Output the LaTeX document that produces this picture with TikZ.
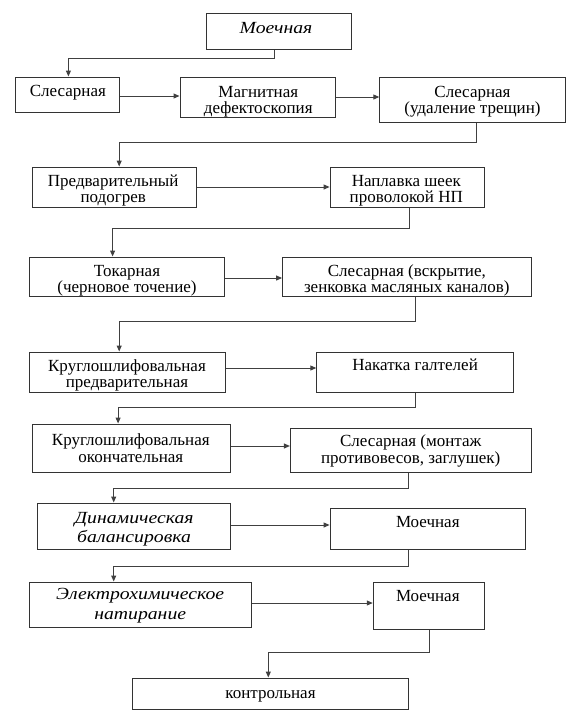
\documentclass[tikz,border=0pt]{standalone}
\usepackage{fontspec}
\setmainfont{Liberation Serif}[FakeStretch=1.001]
\newfontfamily\itf{Liberation Serif}[FakeStretch=1.16]
\usetikzlibrary{arrows.meta}
\begin{document}
\begin{tikzpicture}[x=1pt,y=-1pt,
  box/.style={draw=black!80,line width=1pt,inner sep=0pt,rectangle},
  lbl/.style={inner sep=0pt,align=center,font=\fontsize{17}{16.5}\selectfont},
  ilbl/.style={lbl,font=\fontsize{17}{18.5}\selectfont\itf\itshape},
  arr/.style={draw=black!75,line width=1pt,-{Triangle[length=6pt,width=5pt]}}]
\useasboundingbox (0,0) rectangle (577,724);
% boxes
\node[box,minimum width=144.7pt,minimum height=36pt] (b1) at (278.8,31) {};
\node[box,minimum width=103.7pt,minimum height=35pt] (b2) at (67.4,94.5) {};
\node[box,minimum width=155.6pt,minimum height=40pt] (b3) at (257.8,97) {};
\node[box,minimum width=185.4pt,minimum height=45pt] (b4) at (472.5,99.5) {};
\node[box,minimum width=164.5pt,minimum height=40pt] (b5) at (114.3,187) {};
\node[box,minimum width=154.6pt,minimum height=40pt] (b6) at (407.4,187) {};
\node[box,minimum width=194.3pt,minimum height=39pt] (b7) at (127,276.5) {};
\node[box,minimum width=248.4pt,minimum height=39pt] (b8) at (406.8,276.5) {};
\node[box,minimum width=195.4pt,minimum height=40pt] (b9) at (127.5,372) {};
\node[box,minimum width=196.6pt,minimum height=40pt] (b10) at (415.1,372) {};
\node[box,minimum width=198.7pt,minimum height=48pt] (b11) at (131.4,448) {};
\node[box,minimum width=240.6pt,minimum height=44pt] (b12) at (410.7,450) {};
\node[box,minimum width=193.2pt,minimum height=46pt] (b13) at (134.1,526) {};
\node[box,minimum width=195.4pt,minimum height=41pt] (b14) at (427.8,528.5) {};
\node[box,minimum width=221.9pt,minimum height=45pt] (b15) at (140.8,604.5) {};
\node[box,minimum width=111.5pt,minimum height=47pt] (b16) at (429,605.5) {};
\node[box,minimum width=276pt,minimum height=31pt] (b17) at (270.5,693.5) {};
% texts
\node[ilbl] (t1) at (276,28) {Моечная};
\node[lbl] (t2) at (67.9,92.5) {Слесарная};
\node[lbl] (t3) at (258.3,101.5) {Магнитная\\дефектоскопия};
\node[lbl] (t4) at (472.5,101.5) {Слесарная\\(удаление трещин)};
\node[lbl] (t5) at (113.2,190.5) {Предварительный\\подогрев};
\node[lbl] (t6) at (406.3,190.5) {Наплавка шеек\\проволокой НП};
\node[lbl] (t7) at (127,280.5) {Токарная\\(черновое точение)};
\node[lbl] (t8) at (406.8,280.5) {Слесарная (вскрытие,\\зенковка масляных каналов)};
\node[lbl] (t9) at (127,375.5) {Круглошлифовальная\\предварительная};
\node[lbl] (t10) at (415.1,364.5) {Накатка галтелей};
\node[lbl] (t11) at (130.8,448) {Круглошлифовальная\\окончательная};
\node[lbl] (t12) at (410.7,451) {Слесарная (монтаж\\противовесов, заглушек)};
\node[ilbl] (t13) at (134.1,529) {Динамическая\\балансировка};
\node[lbl] (t14) at (427.8,522) {Моечная};
\node[ilbl,font=\fontsize{17}{20}\selectfont\itf\itshape] (t15) at (140.2,606) {Электрохимическое\\натирание};
\node[lbl] (t16) at (427.8,596) {Моечная};
\node[lbl] (t17) at (270.5,696) {контрольная};
% connectors
\draw[arr] ([xshift=-3.9pt]b1.south) -- ++(0,9) -| ([xshift=1pt]b2.north);
\draw[arr] (b2.east |- 0,96) -- (b3.west |- 0,96);
\draw[arr] (b3.east) -- (b4.west |- b3.east);
\draw[arr] ([xshift=4.4pt]b4.south) -- ++(0,20) -| ([xshift=4.9pt]b5.north);
\draw[arr] (b5.east) -- (b6.west);
\draw[arr] ([xshift=2.2pt]b6.south) -- ++(0,21) -| ([xshift=-14.4pt]b7.north);
\draw[arr] (b7.east |- 0,278) -- (b8.west |- 0,278);
\draw[arr] ([xshift=8.3pt]b8.south) -- ++(0,25) -| ([xshift=-8.3pt]b9.north);
\draw[arr] (b9.east |- 0,368) -- (b10.west |- 0,368);
\draw[arr] (b10.south) -- ++(0,15) -| ([xshift=-13.3pt]b11.north);
\draw[arr] (b11.east |- 0,446) -- (b12.west |- 0,446);
\draw[arr] ([xshift=-2.2pt]b12.south) -- ++(0,16) -| ([xshift=-20.4pt]b13.north);
\draw[arr] (b13.east |- 0,525) -- (b14.west |- 0,525);
\draw[arr] ([xshift=-19.3pt]b14.south) -- ++(0,17) -| ([xshift=-27.1pt]b15.north);
\draw[arr] (b15.east |- 0,603) -- (b16.west |- 0,603);
\draw[arr] ([xshift=0.5pt]b16.south) -- ++(0,23) -| ([xshift=-2.2pt]b17.north);
\end{tikzpicture}
\end{document}
